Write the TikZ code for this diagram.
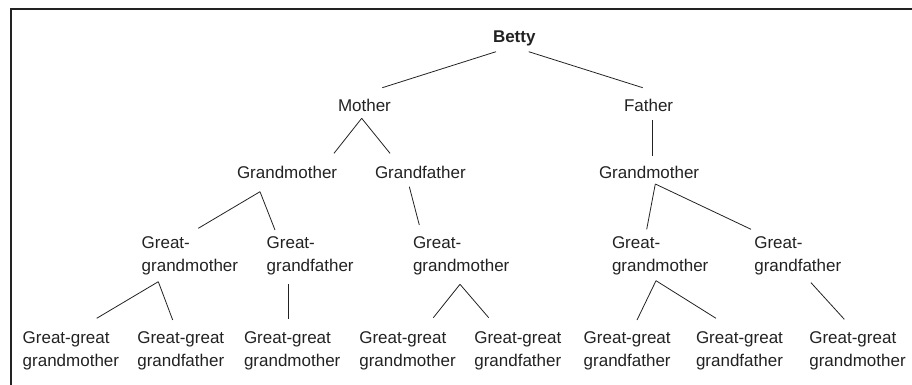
\documentclass[tikz,border=0pt]{standalone}
\usepackage{fontspec}
\setmainfont{Liberation Sans}
\definecolor{ink}{HTML}{222222}
\begin{document}
\begin{tikzpicture}[x=1pt,y=-1pt,
  lbl/.style={inner sep=0pt,outer sep=0pt,text=ink,font=\fontsize{17}{22.7}\selectfont},
  one/.style={lbl,anchor=base west},
  two/.style={lbl,anchor=north west,align=left},
  edge/.style={draw=ink,line width=0.8pt},
  frame/.style={draw=ink,line width=2pt}]
\useasboundingbox (0,0) rectangle (912,385);
\draw[frame] (10.5,385) -- (10.5,9.5) -- (912,9.5);
% level 0
\node[one,font=\fontsize{17}{22.7}\selectfont\bfseries] (betty) at (493,43) {Betty};
% level 1
\node[one] (mother) at (338,111) {Mother};
\node[one] (father) at (624,111) {Father};
% level 2
\node[one] (gmL) at (237,178) {Grandmother};
\node[one] (gf) at (375,178) {Grandfather};
\node[one] (gmR) at (599,178) {Grandmother};
% level 3
\node[two] (ggm1) at (141.7,237) {Great-\\grandmother};
\node[two] (ggf1) at (266.7,237) {Great-\\grandfather};
\node[two] (ggm2) at (413,237) {Great-\\grandmother};
\node[two] (ggm3) at (612,237) {Great-\\grandmother};
\node[two] (ggf3) at (754.3,237) {Great-\\grandfather};
% level 4
\node[two] (g1) at (22.7,331.7) {Great-great\\grandmother};
\node[two] (g2) at (137.3,331.7) {Great-great\\grandfather};
\node[two] (g3) at (244,331.7) {Great-great\\grandmother};
\node[two] (g4) at (359.3,331.7) {Great-great\\grandmother};
\node[two] (g5) at (474.3,331.7) {Great-great\\grandfather};
\node[two] (g6) at (583.7,331.7) {Great-great\\grandfather};
\node[two] (g7) at (696,331.7) {Great-great\\grandfather};
\node[two] (g8) at (809.3,331.7) {Great-great\\grandmother};
% connectors
\draw[edge] ([shift={(3,8.7)}]betty.base west) -- ([shift={(44.3,-23.3)}]mother.base west);
\draw[edge] ([shift={(35.7,8.7)}]betty.base west) -- ([shift={(18.7,-23.3)}]father.base west);
\draw[edge] ([shift={(23.7,7.3)}]mother.base west) -- ([shift={(97,-24.7)}]gmL.base west);
\draw[edge] ([shift={(23.7,7.3)}]mother.base west) -- ([shift={(15,-24.7)}]gf.base west);
\draw[edge] ([shift={(28.7,9)}]father.base west) -- ([shift={(53.7,-22.3)}]gmR.base west);
\draw[edge] ([shift={(23,13.7)}]gmL.base west) -- ([shift={(56.6,-8.7)}]ggm1.north west);
\draw[edge] ([shift={(23,13.7)}]gmL.base west) -- ([shift={(8.3,-7)}]ggf1.north west);
\draw[edge] ([shift={(34.3,8.7)}]gf.base west) -- ([shift={(6.3,-12)}]ggm2.north west);
\draw[edge] ([shift={(56.3,6)}]gmR.base west) -- ([shift={(34.7,-7.7)}]ggm3.north west);
\draw[edge] ([shift={(56.3,6)}]gmR.base west) -- ([shift={(-3.3,-7.7)}]ggf3.north west);
\draw[edge] ([shift={(16.6,44.7)}]ggm1.north west) -- ([shift={(74,-13.4)}]g1.north west);
\draw[edge] ([shift={(16.6,44.7)}]ggm1.north west) -- ([shift={(35.4,-11.7)}]g2.north west);
\draw[edge] ([shift={(21.6,47.3)}]ggf1.north west) -- ([shift={(44.3,-12.4)}]g3.north west);
\draw[edge] ([shift={(47,47.3)}]ggm2.north west) -- ([shift={(74,-14)}]g4.north west);
\draw[edge] ([shift={(47,47.3)}]ggm2.north west) -- ([shift={(14.4,-14)}]g5.north west);
\draw[edge] ([shift={(44,43.7)}]ggm3.north west) -- ([shift={(53.3,-11.7)}]g6.north west);
\draw[edge] ([shift={(44,43.7)}]ggm3.north west) -- ([shift={(20,-13.4)}]g7.north west);
\draw[edge] ([shift={(56.7,45.7)}]ggf3.north west) -- ([shift={(35,-12.4)}]g8.north west);
\end{tikzpicture}
\end{document}
